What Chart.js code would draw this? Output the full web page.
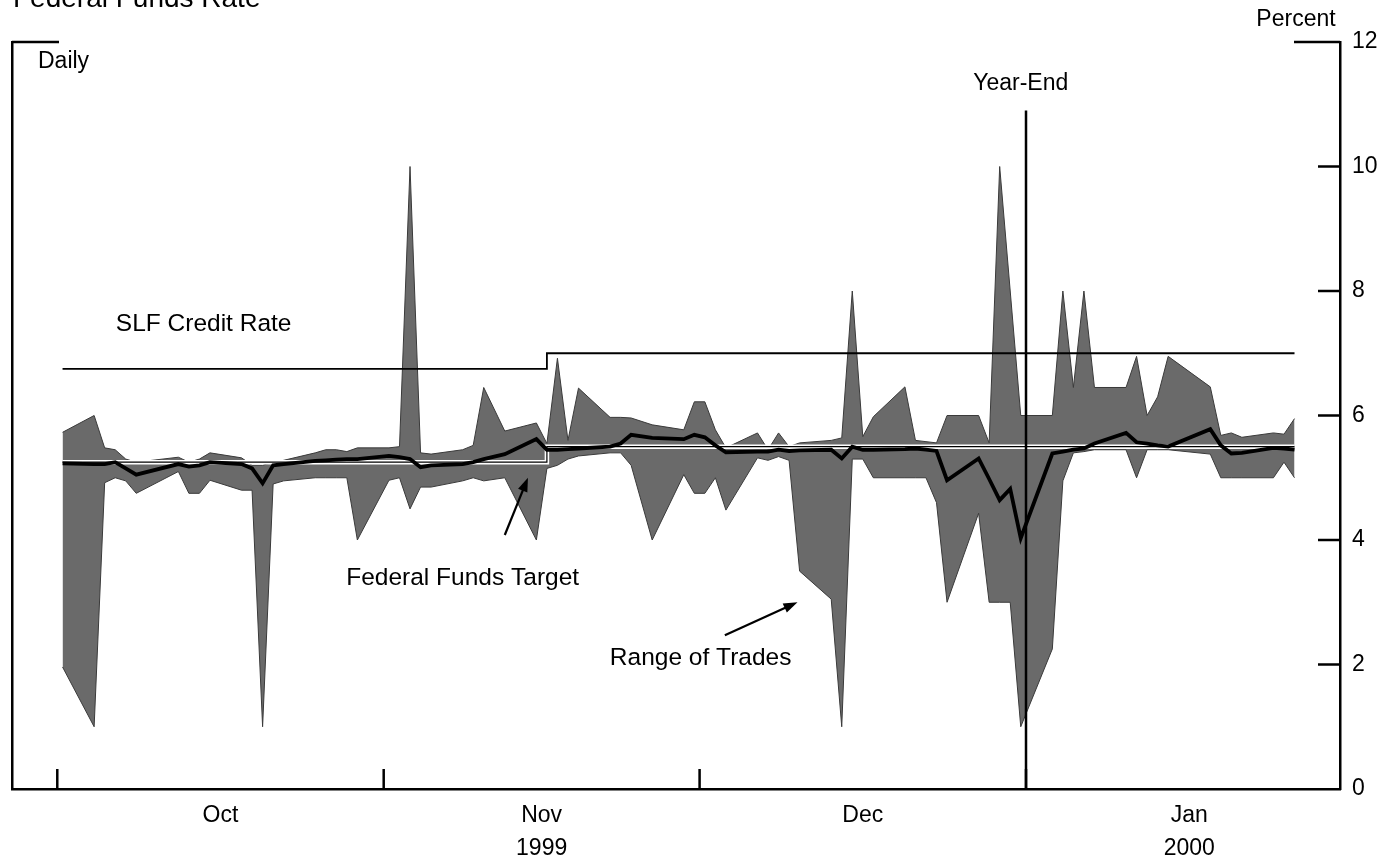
<!DOCTYPE html>
<html lang="en">
<head>
<meta charset="UTF-8">
<title>Federal Funds Rate</title>
<script src="https://cdn.jsdelivr.net/npm/chart.js@4.4.1/dist/chart.umd.min.js"></script>
<style>
  html, body { margin: 0; padding: 0; background: #fff; }
  canvas { display: block; }
</style>
</head>
<body>
<canvas id="myChart" width="1386" height="858"></canvas>
<script>
// trading days on the chart (Oct 1999 - Jan 2000)
const dates = [
  '1999-10-01','1999-10-04','1999-10-05','1999-10-06','1999-10-07','1999-10-08','1999-10-12','1999-10-13','1999-10-14','1999-10-15',
  '1999-10-18','1999-10-19','1999-10-20','1999-10-21','1999-10-22','1999-10-25','1999-10-26','1999-10-27','1999-10-28','1999-10-29',
  '1999-11-01','1999-11-02','1999-11-03','1999-11-04','1999-11-05','1999-11-08','1999-11-09','1999-11-10','1999-11-12','1999-11-15',
  '1999-11-16','1999-11-17','1999-11-18','1999-11-19','1999-11-22','1999-11-23','1999-11-24','1999-11-26','1999-11-29','1999-11-30',
  '1999-12-01','1999-12-02','1999-12-03','1999-12-06','1999-12-07','1999-12-08','1999-12-09','1999-12-10','1999-12-13','1999-12-14',
  '1999-12-15','1999-12-16','1999-12-17','1999-12-20','1999-12-21','1999-12-22','1999-12-23','1999-12-24','1999-12-27','1999-12-28',
  '1999-12-29','1999-12-30','1999-12-31',
  '2000-01-03','2000-01-04','2000-01-05','2000-01-06','2000-01-07','2000-01-10','2000-01-11','2000-01-12','2000-01-13','2000-01-14',
  '2000-01-18','2000-01-19','2000-01-20','2000-01-21','2000-01-24','2000-01-25','2000-01-26'
];

// daily high and low of trades, percent
const highs = [
  5.73, 6.00, 5.48, 5.45, 5.30, 5.25, 5.33, 5.25, 5.30, 5.40, 5.32, 5.20, 5.20, 5.25, 5.28, 5.40, 5.45, 5.45, 5.42, 5.48,
  5.48, 5.50, 10.00, 5.40, 5.38, 5.45, 5.52, 6.45, 5.75, 5.88, 5.55, 6.92, 5.60, 6.44, 5.97, 5.97, 5.96, 5.85, 5.77, 6.22,
  6.22, 5.77, 5.48, 5.72, 5.45, 5.72, 5.50, 5.56, 5.60, 5.64, 8.00, 5.66, 5.98, 6.46, 5.60, 5.58, 5.56, 6.00, 6.00, 5.56,
  10.00, 8.00, 6.00,
  6.00, 8.00, 6.45, 8.00, 6.45, 6.45, 6.95, 6.00, 6.30, 6.95, 6.46, 5.68, 5.72, 5.65, 5.72, 5.70, 5.95
];
const lows = [
  1.96, 1.00, 4.92, 5.00, 4.95, 4.75, 5.10, 4.75, 4.75, 4.96, 4.80, 4.80, 1.00, 4.90, 4.95, 5.00, 5.00, 5.00, 5.00, 4.00,
  4.96, 5.00, 4.50, 4.85, 4.85, 4.95, 5.00, 4.95, 5.00, 4.00, 5.15, 5.20, 5.30, 5.35, 5.40, 5.40, 5.20, 4.00, 5.05, 4.75,
  4.75, 5.00, 4.48, 5.32, 5.28, 5.34, 5.28, 3.50, 3.05, 1.00, 5.30, 5.30, 5.00, 5.00, 5.00, 5.00, 4.60, 3.00, 4.43, 3.00,
  3.00, 3.00, 1.00,
  2.25, 4.95, 5.40, 5.42, 5.45, 5.45, 5.00, 5.45, 5.45, 5.45, 5.38, 5.00, 5.00, 5.00, 5.00, 5.25, 5.00
];
// daily effective federal funds rate
const effective = [
  5.23, 5.22, 5.22, 5.25, 5.15, 5.05, 5.22, 5.18, 5.20, 5.25, 5.22, 5.15, 4.91, 5.20, 5.22, 5.27, 5.28, 5.29, 5.30, 5.30,
  5.35, 5.33, 5.30, 5.17, 5.20, 5.22, 5.25, 5.30, 5.38, 5.62, 5.45, 5.45, 5.46, 5.47, 5.50, 5.55, 5.69, 5.64, 5.62, 5.69,
  5.65, 5.52, 5.41, 5.42, 5.42, 5.45, 5.43, 5.44, 5.45, 5.31, 5.50, 5.45, 5.45, 5.46, 5.47, 5.45, 5.43, 4.96, 5.31, 4.98,
  4.64, 4.82, 4.03,
  5.39, 5.42, 5.45, 5.47, 5.55, 5.72, 5.57, 5.55, 5.52, 5.50, 5.78, 5.52, 5.39, 5.40, 5.48, 5.47, 5.45
];

// policy rates, both moved on 16 Nov 1999
const policyDates = ['1999-10-01', '1999-11-16', '2000-01-26'];
const targetRate = [5.25, 5.50, 5.50];
const slfRate = [6.75, 7.00, 7.00];

const monthStarts = ['1999-10-01', '1999-11-01', '1999-12-01', '2000-01-01', '2000-02-01'];
const monthLabels = ['Oct', 'Nov', 'Dec', 'Jan'];
const yearLabels = ['', '1999', '', '2000'];
const yTicks = [0, 2, 4, 6, 8, 10, 12];
const yearEndTop = 10.9;

// text notes placed in data units (day since 1 Oct 1999, percent)
const notes = [
  { text: 'SLF Credit Rate', day: 13.4, value: 7.47 },
  { text: 'Federal Funds Target', day: 38.0, value: 3.39 },
  { text: 'Range of Trades', day: 60.6, value: 2.10 },
  { text: 'Year-End', day: 91.0, value: 11.33 }
];
const arrows = [
  { from: [42.0, 4.08], to: [44.2, 5.0] },
  { from: [62.9, 2.47], to: [69.8, 3.0] }
];

const dayOf = s => (Date.UTC(+s.slice(0, 4), +s.slice(5, 7) - 1, +s.slice(8, 10)) - Date.UTC(1999, 9, 1)) / 864e5;
const xs = dates.map(dayOf);
const pts = vals => vals.map((v, i) => ({ x: xs[i], y: v }));
const policyPts = vals => vals.map((v, i) => ({ x: dayOf(policyDates[i]), y: v }));
const monthEdges = monthStarts.map(s => dayOf(s) - 0.5);
const monthMids = monthLabels.map((m, i) => (monthEdges[i] + monthEdges[i + 1]) / 2);
const yearEndX = dayOf('2000-01-01') - 0.5;

const FONT = '"Liberation Sans", Arial, Helvetica, sans-serif';
Chart.defaults.font.family = FONT;
Chart.defaults.font.size = 23;
Chart.defaults.color = '#000';

function line(ctx, x1, y1, x2, y2) {
  ctx.beginPath();
  ctx.moveTo(x1, y1);
  ctx.lineTo(x2, y2);
  ctx.stroke();
}

const decorations = {
  id: 'decorations',
  afterDraw(chart) {
    const { ctx, chartArea: area, scales: { x, y } } = chart;
    ctx.save();
    ctx.strokeStyle = '#000';
    ctx.fillStyle = '#000';
    ctx.lineWidth = 2.5;

    // inward ticks on the right axis
    yTicks.forEach(v => {
      if (v === 0) return;
      const len = v === 12 ? 46 : 22;
      const yy = y.getPixelForValue(v);
      line(ctx, area.right - len, yy, area.right, yy);
    });
    // corner mark top left
    const top12 = y.getPixelForValue(12);
    line(ctx, area.left, top12, area.left + 47, top12);

    // month ticks pointing up
    monthEdges.slice(0, 4).forEach(d => {
      const xx = x.getPixelForValue(d);
      line(ctx, xx, area.bottom, xx, area.bottom - 20);
    });

    // notes
    ctx.textAlign = 'center';
    ctx.textBaseline = 'middle';
    notes.forEach(n => {
      ctx.font = (n.text === 'Year-End' ? '23px ' : '24.5px ') + FONT;
      ctx.fillText(n.text, x.getPixelForValue(n.day), y.getPixelForValue(n.value));
    });

    // arrows
    ctx.lineWidth = 2.2;
    arrows.forEach(a => {
      const x1 = x.getPixelForValue(a.from[0]), y1 = y.getPixelForValue(a.from[1]);
      const x2 = x.getPixelForValue(a.to[0]), y2 = y.getPixelForValue(a.to[1]);
      const ang = Math.atan2(y2 - y1, x2 - x1);
      line(ctx, x1, y1, x2 - 8 * Math.cos(ang), y2 - 8 * Math.sin(ang));
      ctx.beginPath();
      ctx.moveTo(x2, y2);
      ctx.lineTo(x2 - 14 * Math.cos(ang) + 5 * Math.sin(ang), y2 - 14 * Math.sin(ang) - 5 * Math.cos(ang));
      ctx.lineTo(x2 - 14 * Math.cos(ang) - 5 * Math.sin(ang), y2 - 14 * Math.sin(ang) + 5 * Math.cos(ang));
      ctx.closePath();
      ctx.fill();
    });

    // titles
    ctx.font = '23px ' + FONT;
    ctx.textAlign = 'left';
    ctx.textBaseline = 'middle';
    ctx.fillText('Daily', area.left + 26, area.top + 20);
    ctx.textAlign = 'center';
    ctx.fillText('Percent', area.right - 44, 20);
    ctx.textAlign = 'left';
    ctx.textBaseline = 'alphabetic';
    ctx.font = '28px ' + FONT;
    ctx.fillText('Federal Funds Rate', 13, 7);
    ctx.restore();
  }
};

const ctx = document.getElementById('myChart').getContext('2d');
new Chart(ctx, {
  type: 'line',
  data: {
    datasets: [
      { label: 'Effective', data: pts(effective), borderColor: '#000', borderWidth: 3.8, order: 1 },
      { label: 'Target', data: policyPts(targetRate), stepped: true, borderColor: '#000', borderWidth: 1.2, order: 2 },
      { label: 'Target halo', data: policyPts(targetRate), stepped: true, borderColor: '#fff', borderWidth: 4.5, order: 3 },
      { label: 'SLF Credit Rate', data: policyPts(slfRate), stepped: true, borderColor: '#000', borderWidth: 1.8, order: 4 },
      { label: 'High', data: pts(highs), borderColor: '#3a3a3a', borderWidth: 1, fill: '+1', backgroundColor: '#6a6a6a', order: 5 },
      { label: 'Low', data: pts(lows), borderColor: '#3a3a3a', borderWidth: 1, order: 6 },
      { label: 'Year-End', data: [{ x: yearEndX, y: 0 }, { x: yearEndX, y: yearEndTop }], borderColor: '#000', borderWidth: 2.5, order: 0 }
    ]
  },
  options: {
    responsive: false,
    animation: false,
    events: [],
    layout: { padding: { left: 12, top: 42, right: 0, bottom: 0 } },
    elements: { point: { radius: 0 }, line: { tension: 0 } },
    plugins: {
      legend: { display: false },
      tooltip: { enabled: false },
      filler: { drawTime: 'beforeDatasetsDraw' }
    },
    scales: {
      x: {
        type: 'linear',
        min: -4.8,
        max: 121.32,
        grid: { display: false, drawTicks: false },
        border: { display: true, color: '#000', width: 2.5 },
        afterBuildTicks: s => { s.ticks = monthMids.map(v => ({ value: v })); },
        afterFit: s => { s.height = 69; },
        ticks: {
          autoSkip: false,
          maxRotation: 0,
          padding: 10,
          font: { size: 23, lineHeight: 1.45 },
          callback: (v, i) => [monthLabels[i], yearLabels[i]]
        }
      },
      y: {
        position: 'right',
        min: 0,
        max: 12,
        grid: { display: false, drawTicks: false },
        border: { display: true, color: '#000', width: 2.5 },
        afterBuildTicks: s => { s.ticks = yTicks.map(v => ({ value: v })); },
        afterFit: s => { s.width = 46; },
        ticks: { padding: 12, font: { size: 23 } }
      },
      yLeft: {
        position: 'left',
        min: 0,
        max: 12,
        grid: { display: false, drawTicks: false },
        ticks: { display: false },
        border: { display: true, color: '#000', width: 2.5 },
        afterFit: s => { s.width = 0; }
      }
    }
  },
  plugins: [decorations]
});
</script>
</body>
</html>
